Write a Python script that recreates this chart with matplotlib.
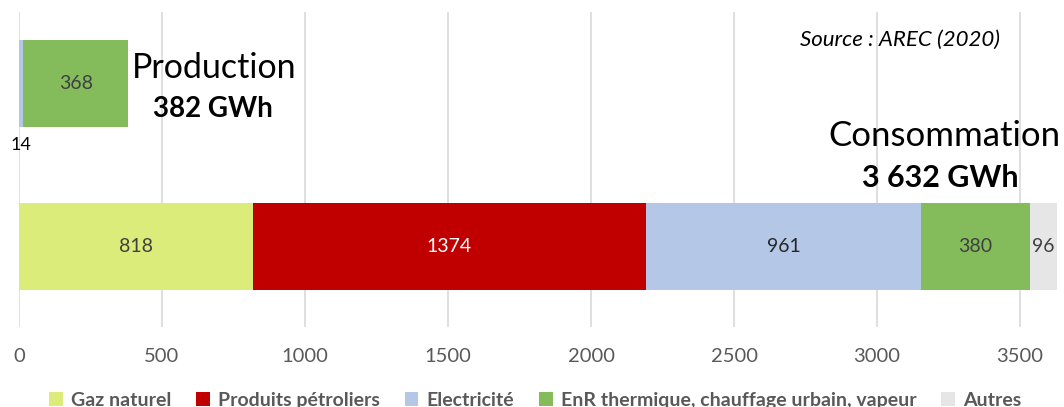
import numpy as np
import matplotlib.pyplot as plt

plt.rcParams['font.family'] = ['Lato', 'DejaVu Sans']

# data (GWh)
categories = ['Consommation', 'Production']
series = ['Gaz naturel', 'Produits pétroliers', 'Electricité',
          'EnR thermique, chauffage urbain, vapeur', 'Autres']
consommation = [818, 1374, 961, 380, 96]
production = [0, 0, 14, 368, 0]
colors = ['#DCEC7B', '#C00000', '#B4C7E7', '#84BC5C', '#E7E6E6']
label_colors = ['#404040', 'white', '#262626', '#404040', '#404040']

fig = plt.figure(figsize=(10.64, 4.07), dpi=100)
ax = fig.add_axes([19 / 1064, 80 / 407, 1040 / 1064, 315 / 407])

y_pos = np.arange(len(categories))
values = np.array([consommation, production]).T
left = np.zeros(len(categories))
bh = 0.534
for i, name in enumerate(series):
    ax.barh(y_pos, values[i], left=left, height=bh, color=colors[i],
            label=name, zorder=2)
    # labels inside bars
    for j in range(len(categories)):
        v = values[i][j]
        if v == 0:
            continue
        if v < 50 and j == 1:
            ax.text(left[j] + v / 2, y_pos[j] - bh / 2 - 0.11, str(v),
                    ha='center', va='center', fontsize=13, color='black')
        else:
            ax.text(left[j] + v / 2, y_pos[j], str(v), ha='center',
                    va='center', fontsize=14, color=label_colors[i])
    left = left + values[i]

ax.set_xlim(0, 3636)
ax.set_ylim(-0.494, 1.439)
ax.set_xticks(np.arange(0, 3501, 500))
ax.set_yticks([])
ax.grid(axis='x', color='#D9D9D9', linewidth=1.2, zorder=0)
ax.tick_params(axis='x', length=0, pad=15, labelsize=14.5, labelcolor='#595959')
for s in ax.spines.values():
    s.set_visible(False)

# annotations
ax.text(682, 1.095, 'Production', fontsize=24.5, ha='center', va='center')
ax.text(678, 0.844, '382 GWh', fontsize=20, fontweight='bold', ha='center', va='center')
ax.text(3234, 0.678, 'Consommation', fontsize=25, ha='center', va='center')
ax.text(3220, 0.42, '3 632 GWh', fontsize=22, fontweight='bold', ha='center', va='center')
ax.text(3430, 1.267, 'Source : AREC (2020)', fontsize=16, fontstyle='italic',
        ha='right', va='center')

leg = fig.legend(loc='center', bbox_to_anchor=(0.503, 0.017), ncol=5,
                 frameon=False, fontsize=14, handlelength=0.7, handleheight=0.7,
                 handletextpad=0.4, columnspacing=1.3)
for t in leg.get_texts():
    t.set_color('#595959')
    t.set_fontweight('bold')

fig.savefig('out.png', dpi=100)
